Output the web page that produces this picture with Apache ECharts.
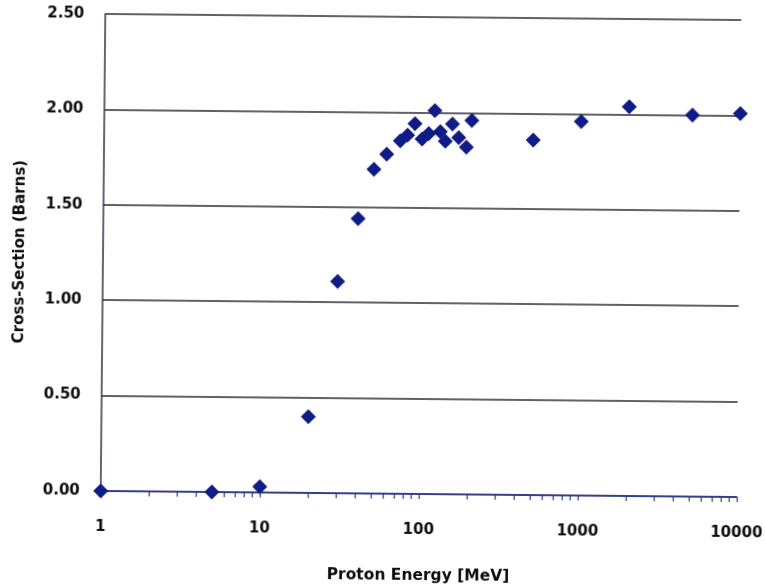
<!DOCTYPE html>
<html>
<head>
<meta charset="utf-8">
<title>Proton cross-section</title>
<script src="https://cdn.jsdelivr.net/npm/echarts@6/dist/echarts.min.js"></script>
<style>
  html, body { margin: 0; padding: 0; background: #ffffff; }
  #chart {
    width: 765px;
    height: 588px;
    /* the printed sheet sits at a slight clockwise tilt */
    transform: rotate(0.55deg);
    transform-origin: 421px 256px;
  }
</style>
</head>
<body>
<div id="chart"></div>
<script>
// Proton energy (MeV) and measured cross-section (barns)
const energyMeV = [1, 5, 10, 20, 30, 40, 50, 60, 73, 81, 90, 100, 110, 120, 130, 140, 155, 170, 190, 205, 500, 1000, 2000, 5000, 10000];
const crossSection = [0.00, 0.00, 0.03, 0.40, 1.11, 1.44, 1.70, 1.78, 1.85, 1.88, 1.94, 1.86, 1.89, 2.01, 1.90, 1.85, 1.94, 1.87, 1.82, 1.96, 1.86, 1.96, 2.04, 2.00, 2.01];

const xTickLabels = ['1', '10', '100', '1000', '10000'];
const yTickLabels = ['0.00', '0.50', '1.00', '1.50', '2.00', '2.50'];

const points = energyMeV.map((e, i) => [e, crossSection[i]]);

const labelFont = {
  fontFamily: 'DejaVu Sans',
  fontWeight: 'bold',
  color: '#0d0d0d'
};

const chart = echarts.init(document.getElementById('chart'), null, { renderer: 'canvas' });

chart.setOption({
  backgroundColor: '#ffffff',
  animation: false,
  grid: {
    left: 103,
    top: 17,
    width: 636,
    height: 477,
    containLabel: false,
    outerBoundsMode: 'none'
  },
  xAxis: {
    type: 'log',
    logBase: 10,
    min: 1,
    max: 10000,
    name: 'Proton Energy [MeV]',
    nameLocation: 'middle',
    nameGap: 74,
    nameTextStyle: Object.assign({ fontSize: 15.5 }, labelFont),
    axisLine: { show: true, lineStyle: { color: '#283690', width: 1.5 } },
    axisTick: { show: true, inside: false, length: 5, lineStyle: { color: '#283690', width: 1.2 } },
    minorTick: { show: true, splitNumber: 9, length: 5, lineStyle: { color: '#283690', width: 1.2 } },
    splitLine: { show: false },
    axisLabel: Object.assign({
      fontSize: 15,
      margin: 29,
      formatter: function (v) {
        const idx = Math.round(Math.log10(v));
        return xTickLabels[idx] !== undefined ? xTickLabels[idx] : '';
      }
    }, labelFont)
  },
  yAxis: {
    type: 'value',
    min: 0,
    max: 2.5,
    interval: 0.5,
    name: 'Cross-Section (Barns)',
    nameLocation: 'middle',
    nameRotate: 90,
    nameGap: 75,
    nameTextStyle: Object.assign({ fontSize: 15 }, labelFont),
    axisLine: { show: true, lineStyle: { color: '#2e3448', width: 1.5 } },
    axisTick: { show: false },
    splitLine: { show: true, lineStyle: { color: '#2c2d36', width: 1.5 } },
    axisLabel: Object.assign({
      fontSize: 15,
      margin: 21,
      formatter: function (v) {
        const idx = Math.round(v / 0.5);
        return yTickLabels[idx] !== undefined ? yTickLabels[idx] : '';
      }
    }, labelFont)
  },
  series: [{
    type: 'scatter',
    data: points,
    symbol: 'diamond',
    symbolSize: 15,
    itemStyle: { color: '#101b86', opacity: 1 },
    z: 5
  }]
});
</script>
</body>
</html>
